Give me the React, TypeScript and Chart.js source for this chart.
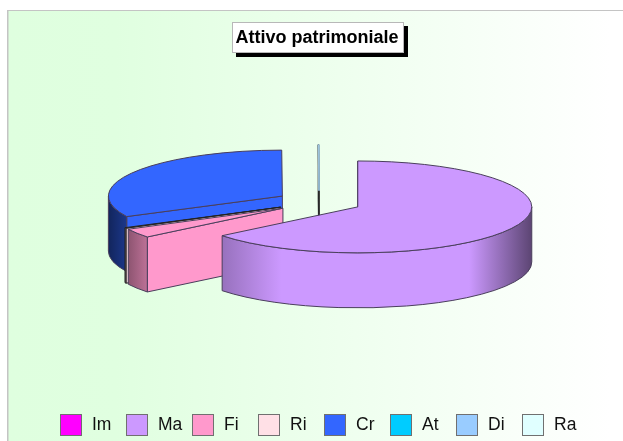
import React, { useEffect, useRef } from "react";
import { Chart, registerables } from "chart.js";

Chart.register(...registerables);

const categories = ["Im", "Ma", "Fi", "Ri", "Cr", "At", "Di", "Ra"];
const values = [0, 64.2, 3.2, 0.2, 32.3, 0.02, 0.02, 0.02];
const colors = ["#FF00FF", "#CC99FF", "#FF99CC", "#FFE0E6", "#3366FF", "#00CCFF", "#99CCFF", "#E0FFFF"];
const paintOrder = [5, 6, 7, 4, 3, 2, 1, 0];
const chartTitle = "Attivo patrimoniale";

const SQUASH = 0.264;
const DEPTH = 55;
const EXPLODE = 43;
const STROKE = "#4a3f5c";

function shade(hex: string, k: number) {
  const n = parseInt(hex.slice(1), 16);
  const c = [(n >> 16) & 255, (n >> 8) & 255, n & 255].map((v) => Math.round(v * k));
  return `rgb(${c[0]},${c[1]},${c[2]})`;
}

const pie3d = {
  id: "pie3d",
  afterLayout(chart: any) {
    chart.titleBlock.left -= 2;
    chart.titleBlock.right -= 2;
  },
  beforeDraw(chart: any) {
    const { ctx, width, height } = chart;
    const g = ctx.createLinearGradient(7, 0, 610, 0);
    g.addColorStop(0, "#DFFFDF");
    g.addColorStop(0.18, "#E0FFE0");
    g.addColorStop(1, "#FFFFFF");
    ctx.save();
    ctx.fillStyle = "#FFFFFF";
    ctx.fillRect(0, 0, width, height);
    ctx.fillStyle = g;
    ctx.fillRect(7, 10, width - 7, height - 10);
    ctx.fillStyle = "#C4C4C4";
    ctx.fillRect(7, 10, width - 7, 1);
    ctx.fillRect(7, 10, 1.5, height - 10);
    // title frame
    ctx.fillStyle = "#000000";
    ctx.fillRect(236, 26, 172, 31);
    ctx.fillStyle = "#FFFFFF";
    ctx.fillRect(232, 22, 172, 31);
    ctx.strokeStyle = "#B8B8B8";
    ctx.lineWidth = 1;
    ctx.strokeRect(232.5, 22.5, 171, 30);
    ctx.restore();
  },
  beforeDatasetsDraw(chart: any) {
    const { ctx } = chart;
    const arcs = chart.getDatasetMeta(0).data;
    paintOrder.forEach((i) => {
      const arc = arcs[i];
      const { x, y, startAngle: a0, endAngle: a1, outerRadius: R } = arc.getProps(
        ["x", "y", "startAngle", "endAngle", "outerRadius"],
        true
      );
      if (a1 - a0 <= 0) return;
      const color = colors[i];
      const thin = a1 - a0 < 0.01;
      const sliver = a1 - a0 < 0.05;
      const mid = (a0 + a1) / 2;
      const cx = x + Math.cos(mid) * EXPLODE;
      const cy = y + Math.sin(mid) * EXPLODE * SQUASH;
      const px = (a: number) => cx + R * Math.cos(a);
      const py = (a: number) => cy + R * SQUASH * Math.sin(a);

      ctx.save();
      ctx.lineWidth = 1;
      ctx.lineJoin = "round";
      ctx.strokeStyle = sliver ? "#222222" : STROKE;

      // flat cut faces of the wedge
      const face = (a: number) => {
        ctx.beginPath();
        ctx.moveTo(cx, cy);
        ctx.lineTo(px(a), py(a));
        ctx.lineTo(px(a), py(a) + DEPTH);
        ctx.lineTo(cx, cy + DEPTH);
        ctx.closePath();
        ctx.fillStyle = color;
        ctx.fill();
        ctx.stroke();
      };
      if (-Math.cos(a0) > -1e-6) face(a0);
      if (Math.cos(a1) > 1e-6) face(a1);

      // curved outer wall: front half only
      const TWO = Math.PI * 2;
      for (const k of [0, 1]) {
        const from = Math.max(a0, k * TWO);
        const to = Math.min(a1, k * TWO + Math.PI);
        if (to <= from) continue;
        const grad = ctx.createLinearGradient(cx - R, 0, cx + R, 0);
        grad.addColorStop(0, shade(color, 0.36));
        grad.addColorStop(0.11, shade(color, 0.74));
        grad.addColorStop(0.28, shade(color, 1));
        grad.addColorStop(0.82, shade(color, 1));
        grad.addColorStop(1, shade(color, 0.45));
        ctx.beginPath();
        ctx.ellipse(cx, cy, R, R * SQUASH, 0, from, to);
        ctx.ellipse(cx, cy + DEPTH, R, R * SQUASH, 0, to, from, true);
        ctx.closePath();
        ctx.fillStyle = grad;
        ctx.fill();
        ctx.stroke();
      }

      // top face, drawn by the library's own arc element
      ctx.save();
      ctx.translate(cx - x, cy);
      ctx.scale(1, SQUASH);
      ctx.translate(0, -y);
      arc.draw(ctx);
      ctx.restore();
      ctx.beginPath();
      ctx.moveTo(cx, cy);
      ctx.ellipse(cx, cy, R, R * SQUASH, 0, a0, a1);
      ctx.closePath();
      ctx.strokeStyle = thin ? "#A9D4F0" : sliver ? "#222222" : STROKE;
      ctx.stroke();
      ctx.restore();
    });
    return false;
  },
  afterDraw(chart: any) {
    const { ctx } = chart;
    ctx.save();
    ctx.font = '17.5px "Liberation Sans", Arial, sans-serif';
    ctx.textBaseline = "middle";
    ctx.textAlign = "left";
    categories.forEach((label, i) => {
      const bx = Math.round(59.5 + i * 66.1);
      ctx.fillStyle = colors[i];
      ctx.fillRect(bx, 414, 22, 22);
      ctx.strokeStyle = "#707070";
      ctx.lineWidth = 1;
      ctx.strokeRect(bx + 0.5, 414.5, 21, 21);
      ctx.fillStyle = "#111111";
      ctx.fillText(label, bx + 32, 425);
    });
    ctx.restore();
  },
};

export default function App() {
  const ref = useRef<HTMLCanvasElement>(null);
  useEffect(() => {
    const chart = new Chart(ref.current as HTMLCanvasElement, {
      type: "pie",
      data: {
        labels: categories,
        datasets: [
          {
            data: values,
            backgroundColor: colors,
            borderWidth: 0,
            radius: 174,
          } as any,
        ],
      },
      options: {
        responsive: false,
        animation: false,
        layout: { padding: { left: 15, right: 0, top: 0, bottom: 92 } },
        plugins: {
          legend: { display: false },
          tooltip: { enabled: false },
          title: {
            display: true,
            text: chartTitle,
            color: "#000000",
            font: { family: '"Liberation Sans", Arial, sans-serif', size: 18, weight: "bold", lineHeight: 1.2 },
            padding: { top: 27, bottom: 6.4 },
          },
        },
      },
      plugins: [pie3d],
    } as any);
    return () => chart.destroy();
  }, []);
  return (
    <canvas
      ref={ref}
      width={623}
      height={441}
      style={{ position: "fixed", left: 0, top: 0, width: 623, height: 441, display: "block" }}
    />
  );
}
